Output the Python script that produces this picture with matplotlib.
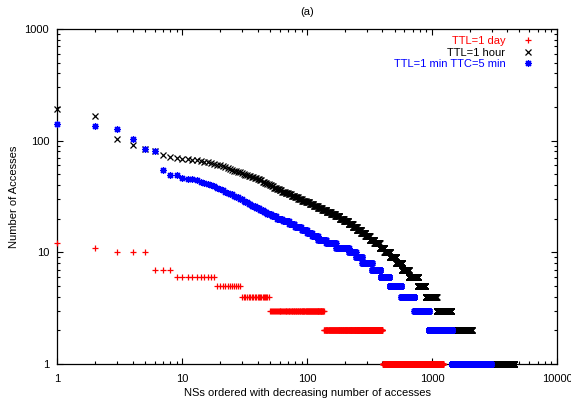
import numpy as np
import matplotlib
matplotlib.use("Agg")
import matplotlib.pyplot as plt
from matplotlib.ticker import FuncFormatter, LogLocator, NullFormatter

plt.rcParams['font.family'] = ['Liberation Sans', 'DejaVu Sans']

# number of accesses per NS (distinct values) and how many NSs have it
day_values = [12, 11, 10, 7, 6, 5, 4, 3, 2, 1]
day_counts = [1, 1, 3, 3, 10, 11, 20, 86, 265, 820]

hour_values = [191, 166, 103, 91, 85, 80, 74, 71,
               70, 69, 68, 67, 66, 65, 64, 63, 62, 61, 60, 59, 58, 57, 56, 55,
               54, 53, 52, 51, 50, 49, 48, 47, 46, 45, 44, 43, 42, 41, 40, 39,
               38, 37, 36, 35, 34, 33, 32, 31, 30, 29, 28, 27, 26, 25, 24, 23,
               22, 21, 20, 19, 18, 17, 16, 15, 14, 13, 12, 11, 10, 9, 8, 7,
               6, 5, 4, 3, 2, 1]
hour_counts = [1, 1, 1, 1, 1, 1, 1, 1,
               1, 1, 1, 2, 1, 1, 1, 1, 1, 1, 1, 1, 1, 1, 1, 1,
               1, 1, 2, 1, 1, 2, 2, 2, 2, 2, 2, 2, 2, 2, 2, 2,
               3, 3, 3, 4, 4, 4, 5, 5, 6, 7, 7, 8, 9, 10, 11, 12,
               13, 14, 15, 17, 18, 18, 20, 22, 25, 28, 35, 35, 45, 55, 60, 75,
               120, 115, 200, 335, 650, 2430]

min_values = [141, 135, 126, 103, 85, 80, 55, 49,
              46, 45, 44, 43, 42, 41, 40, 39, 38, 37, 36, 35, 34, 33, 32, 31,
              30, 29, 28, 27, 26, 25, 24, 23, 22, 21, 20, 19, 18, 17, 16, 15,
              14, 13, 12, 11, 10, 9, 8, 7, 6, 5, 4, 3, 2, 1]
min_counts = [1, 1, 1, 1, 1, 1, 1, 2,
              1, 2, 1, 1, 1, 1, 1, 1, 1, 1, 1, 1, 1, 2, 1, 2,
              2, 1, 2, 2, 3, 3, 3, 3, 4, 5, 7, 8, 8, 10, 10, 10,
              12, 20, 28, 45, 30, 30, 55, 56, 70, 110, 155, 220, 500, 1500]

labels = ["TTL=1 day", "TTL=1 hour", "TTL=1 min TTC=5 min"]
colors = ["#ff0000", "#000000", "#0000ff"]


def rank_curve(values, counts):
    acc = np.repeat(values, counts)
    return np.arange(1, len(acc) + 1), acc


fig = plt.figure(figsize=(5.71, 4.03), dpi=100)
ax = fig.add_axes([0.1007, 0.0968, 0.8748, 0.8312])

series = [(day_values, day_counts), (hour_values, hour_counts), (min_values, min_counts)]
markers = ["+", "x", (8, 2, 0)]
for (vals, cnts), lab, col, mk in zip(series, labels, colors, markers):
    r, v = rank_curve(vals, cnts)
    ax.plot(r, v, linestyle="none", marker=mk, markersize=5, markeredgewidth=0.9,
            color=col, label=lab, clip_on=False, zorder=3)

ax.set_xscale("log")
ax.set_yscale("log")
ax.set_xlim(1, 10000)
ax.set_ylim(1, 1000)

fmt = FuncFormatter(lambda v, _: f"{v:g}")
for axis in (ax.xaxis, ax.yaxis):
    axis.set_major_locator(LogLocator(base=10))
    axis.set_minor_locator(LogLocator(base=10, subs=np.arange(2, 10)))
    axis.set_major_formatter(fmt)
    axis.set_minor_formatter(NullFormatter())

ax.tick_params(which="both", direction="in", top=True, right=True, labelsize=8, width=0.8)
ax.tick_params(which="major", length=4.5)
ax.tick_params(which="minor", length=2.4)
ax.tick_params(axis="x", which="major", pad=7)
ax.tick_params(axis="y", which="major", pad=6)
for s in ax.spines.values():
    s.set_linewidth(0.9)

ax.set_xlabel("NSs ordered with decreasing number of accesses", fontsize=8, labelpad=3)
ax.set_ylabel("Number of Accesses", fontsize=8, labelpad=4)
ax.set_title("(a)", fontsize=8, pad=10)

ax.legend(loc="upper right", bbox_to_anchor=(0.979, 1.009), frameon=False, markerfirst=False,
          labelcolor="linecolor", fontsize=8, numpoints=1, labelspacing=0.15,
          handlelength=1.6, handletextpad=1.2)

fig.savefig("out.png", dpi=100)
